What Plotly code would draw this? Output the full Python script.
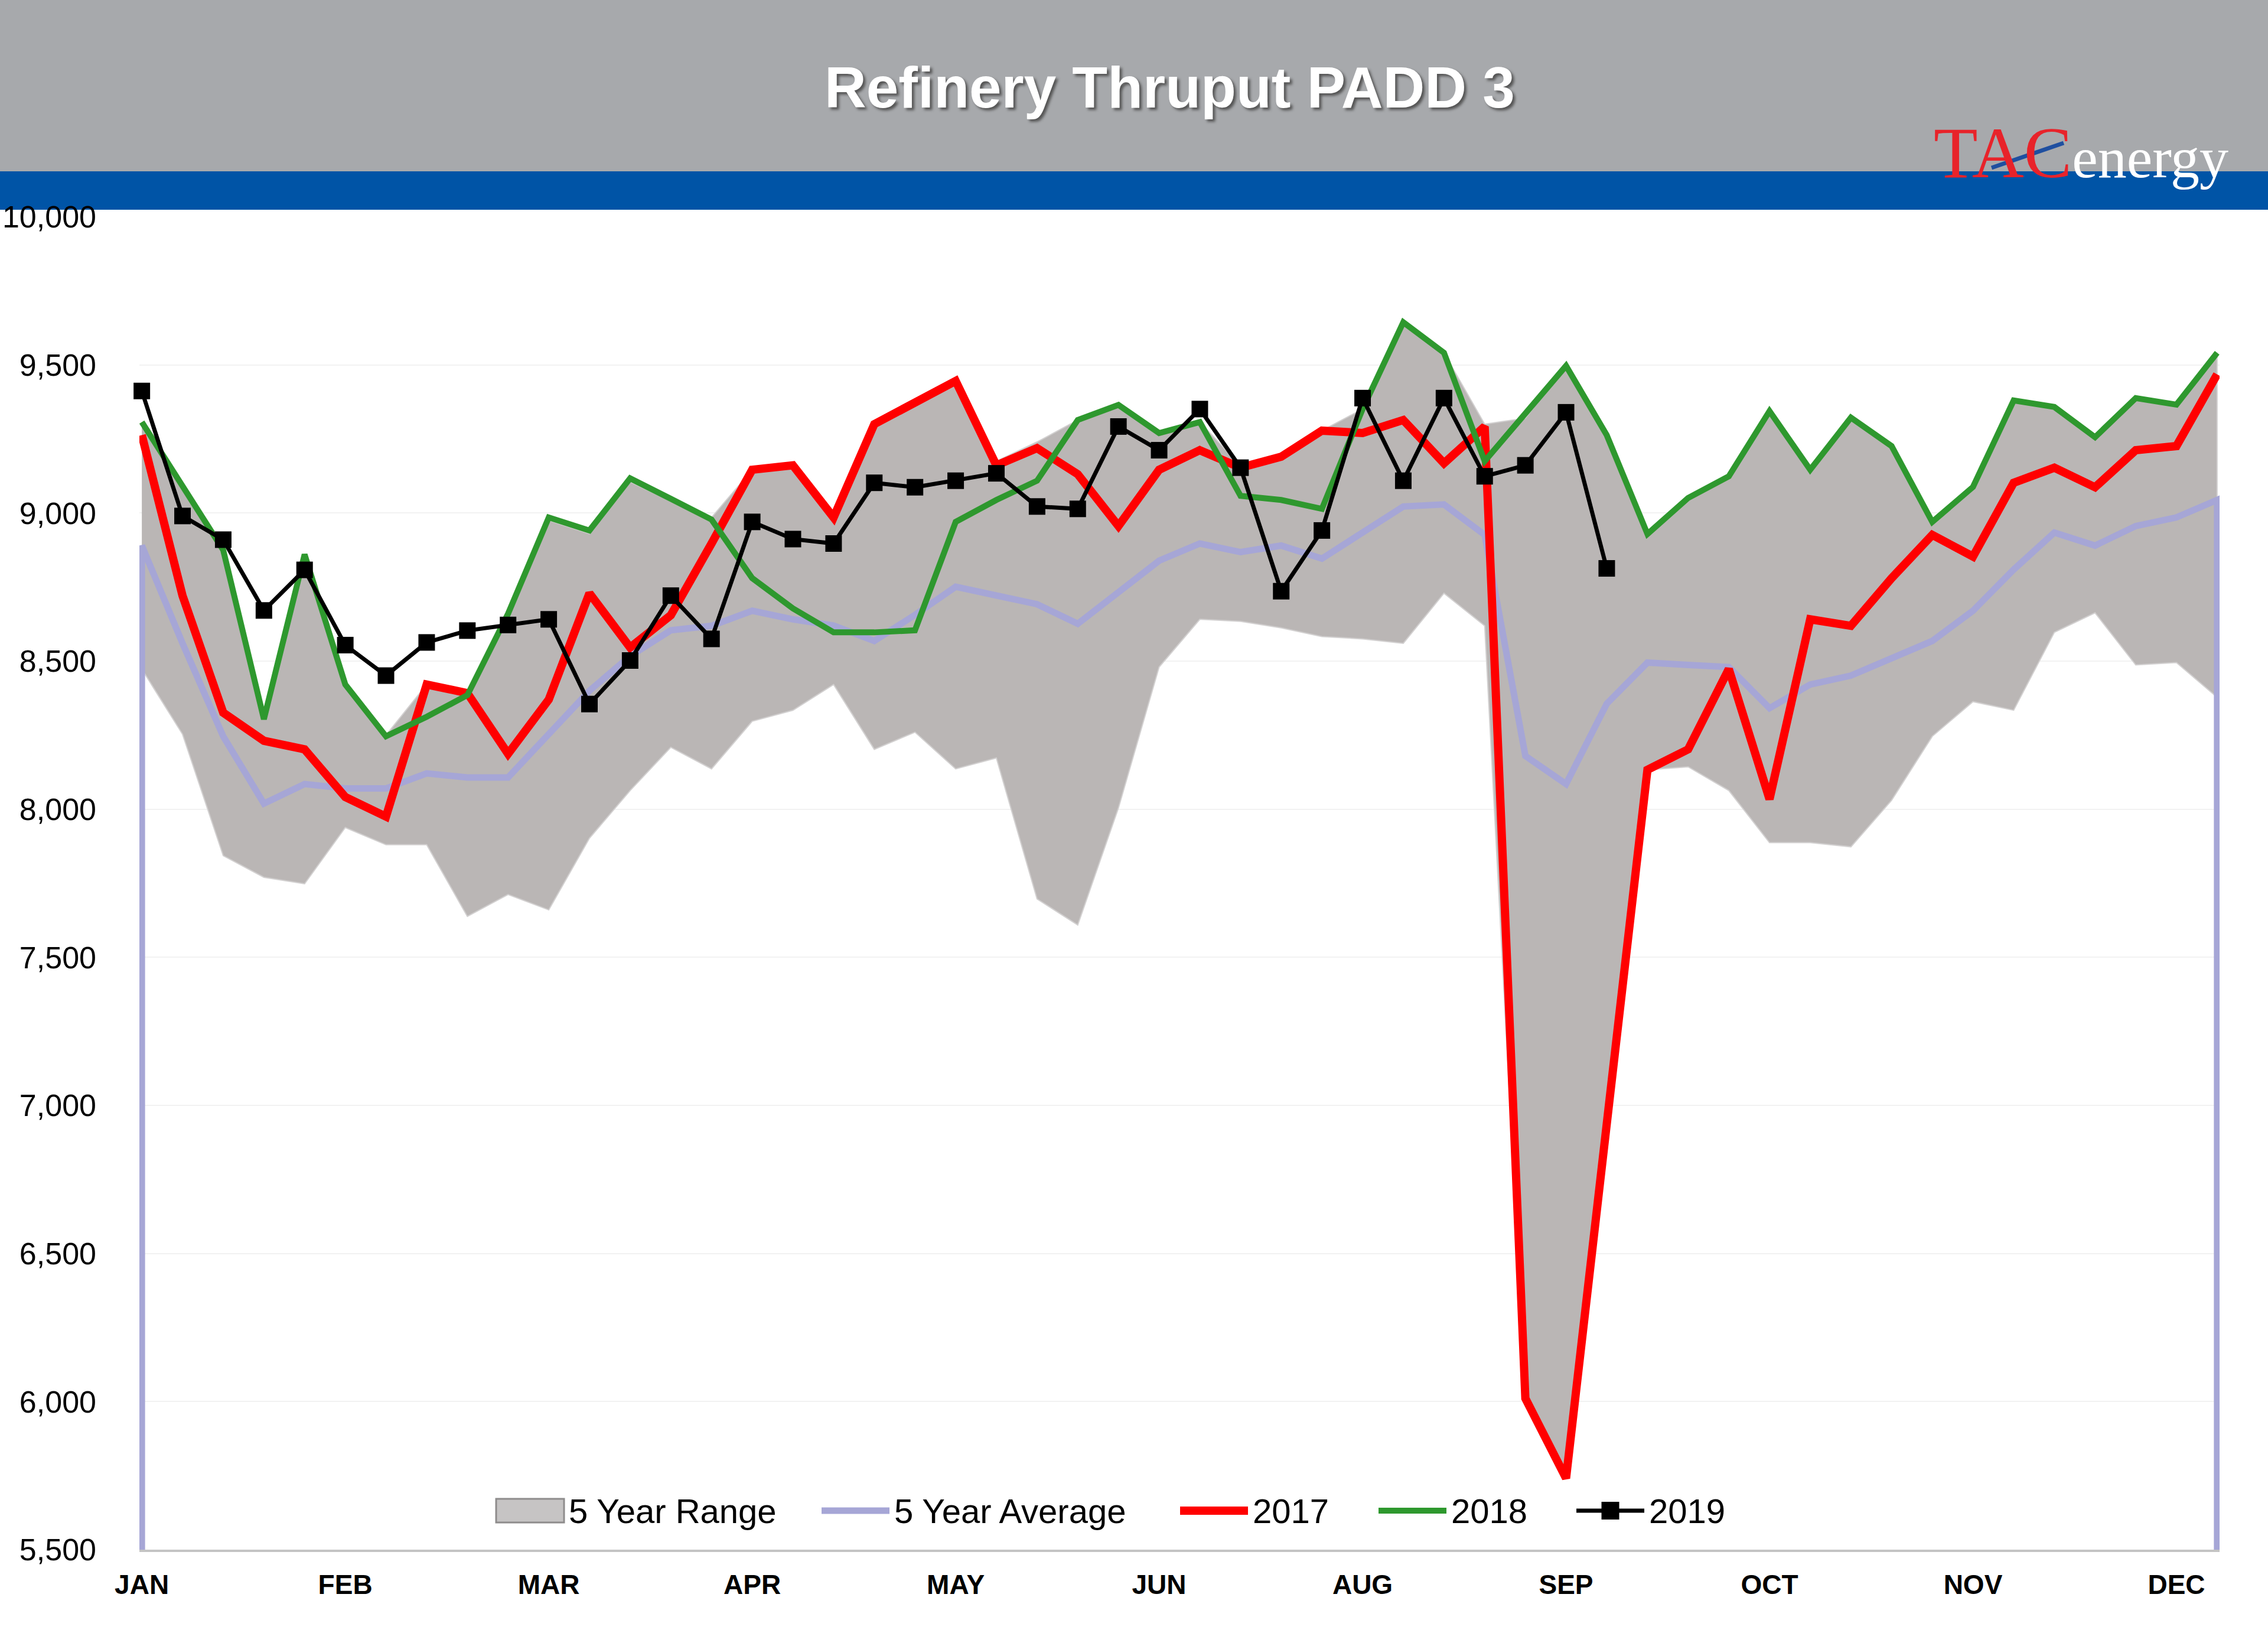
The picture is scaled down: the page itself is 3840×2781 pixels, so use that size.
"""
Refinery Thruput PADD 3 -- weekly seasonal chart (2017 / 2018 / 2019 vs 5-year band).
"""

import plotly.graph_objects as go

# --- data (thousand b/d), one value per week of the year ---
WEEKS = list(range(52))
MONTH_TICKS = [0, 5, 10, 15, 20, 25, 30, 35, 40, 45, 50]
MONTH_LABELS = ["JAN", "FEB", "MAR", "APR", "MAY", "JUN", "AUG", "SEP", "OCT", "NOV", "DEC"]

range_lo = [8473, 8253, 7843, 7770, 7748, 7938, 7880, 7880, 7638, 7712,
            7660, 7902, 8063, 8209, 8136, 8297, 8334, 8421, 8202, 8260,
            8136, 8173, 7697, 7609, 8004, 8480, 8641, 8634, 8612, 8583,
            8575, 8560, 8729, 8619, 6011, 5741, 6937, 8133, 8143, 8063,
            7887, 7887, 7873, 8030, 8246, 8363, 8334, 8597, 8663, 8487,
            8495, 8378]

range_hi = [9307, 9090, 8890, 8304, 8860, 8421, 8250, 8421, 8400, 8660,
            8975, 8930, 9105, 9040, 8985, 9146, 9161, 8985, 9300, 9373,
            9446, 9175, 9240, 9314, 9365, 9270, 9307, 9160, 9190, 9278,
            9351, 9644, 9541, 9300, 9320, 9497, 9263, 8929, 9045, 9118,
            9344, 9146, 9322, 9226, 8970, 9088, 9380, 9358, 9256, 9388,
            9366, 9541]

avg_5yr = [8890, 8560, 8246, 8019, 8085, 8070, 8070, 8121, 8107, 8107,
           8253, 8400, 8517, 8604, 8619, 8670, 8641, 8620, 8568, 8656,
           8751, 8721, 8692, 8626, 8736, 8839, 8897, 8868, 8890, 8846,
           8934, 9022, 9029, 8926, 8180, 8085, 8356, 8495, 8487, 8480,
           8341, 8421, 8451, 8509, 8568, 8670, 8809, 8934, 8890, 8956,
           8985, 9044]

y2017 = [9263, 8721, 8326, 8231, 8202, 8041, 7975, 8421, 8392, 8187,
         8370, 8729, 8546, 8655, 8897, 9146, 9161, 8985, 9300, 9373,
         9446, 9161, 9219, 9131, 8956, 9146, 9212, 9153, 9190, 9278,
         9270, 9314, 9168, 9292, 6011, 5741, 6937, 8133, 8202, 8473,
         8034, 8641, 8619, 8780, 8926, 8853, 9102, 9153, 9087, 9212,
         9226, 9468]

y2018 = [9307, 9090, 8875, 8304, 8860, 8421, 8246, 8312, 8385, 8660,
         8985, 8941, 9117, 9048, 8978, 8780, 8678, 8597, 8597, 8604,
         8970, 9044, 9109, 9314, 9365, 9270, 9307, 9058, 9044, 9014,
         9351, 9644, 9541, 9175, 9335, 9497, 9263, 8929, 9051, 9124,
         9344, 9146, 9322, 9226, 8970, 9088, 9380, 9358, 9256, 9388,
         9366, 9541]

y2019 = [9412, 8990, 8910, 8671, 8808, 8554, 8451, 8563, 8603, 8622,
         8641, 8355, 8502, 8721, 8575, 8970, 8912, 8897, 9102, 9087,
         9109, 9134, 9022, 9014, 9292, 9212, 9351, 9153, 8736, 8941,
         9388, 9109, 9388, 9124, 9161, 9340, 8813]

Y_MIN, Y_MAX = 5500, 10000

# --- page geometry (px) ---
W, H = 3840, 2781
PLOT_L, PLOT_R, PLOT_T, PLOT_B = 236, 3758, 367, 2623
PW, PH = PLOT_R - PLOT_L, PLOT_B - PLOT_T


def px_x(px):
    return (px - PLOT_L) / PW


def px_y(py):
    return (PLOT_B - py) / PH


FONT = "Liberation Sans, Arial, sans-serif"
GRAY_FILL = "#BAB6B5"
LAVENDER = "#A6A6D6"
RED = "#FF0000"
GREEN = "#2E982E"

fig = go.Figure()

# 5-year range band as one closed polygon (upper edge out, lower edge back)
fig.add_trace(go.Scatter(x=WEEKS + WEEKS[::-1], y=range_hi + range_lo[::-1],
                         mode="lines", name="5 Year Range",
                         fill="toself", fillcolor=GRAY_FILL,
                         line=dict(width=2, color="#D2D0D0")))

# 5-year average -- Excel drops it to the axis floor at both ends
fig.add_trace(go.Scatter(x=[WEEKS[0]] + WEEKS + [WEEKS[-1]],
                         y=[Y_MIN] + avg_5yr + [Y_MIN],
                         mode="lines", name="5 Year Average",
                         line=dict(width=11, color=LAVENDER)))

fig.add_trace(go.Scatter(x=WEEKS, y=y2017, mode="lines", name="2017",
                         line=dict(width=14, color=RED)))
fig.add_trace(go.Scatter(x=WEEKS, y=y2018, mode="lines", name="2018",
                         line=dict(width=10, color=GREEN)))
fig.add_trace(go.Scatter(x=WEEKS[:len(y2019)], y=y2019, mode="lines+markers", name="2019",
                         line=dict(width=7, color="#000000"),
                         marker=dict(symbol="square", size=28, color="#000000"),
                         cliponaxis=False))

shapes = [
    # grey header and blue band
    dict(type="rect", xref="paper", yref="paper", layer="below",
         x0=px_x(-60), x1=px_x(W + 60), y0=px_y(290), y1=px_y(-20),
         fillcolor="#A7A9AC", line=dict(width=0)),
    dict(type="rect", xref="paper", yref="paper", layer="below",
         x0=px_x(-60), x1=px_x(W + 60), y0=px_y(355), y1=px_y(290),
         fillcolor="#0054A6", line=dict(width=0)),
    # logo swoosh
    dict(type="line", xref="paper", yref="paper",
         x0=px_x(3372), y0=px_y(284), x1=px_x(3494), y1=px_y(242),
         line=dict(color="#1F4FA0", width=7)),
]

annotations = [
    dict(text="<b>Refinery Thruput PADD 3</b>", xref="paper", yref="paper",
         x=px_x(1980), y=px_y(148), xanchor="center", yanchor="middle",
         showarrow=False,
         font=dict(family=FONT, size=98, color="white", shadow="4px 4px 4px #555555")),
    dict(text="<span style='color:#E8232A;font-size:122px'>TAC</span>energy",
         xref="paper", yref="paper",
         x=px_x(3272), y=px_y(258), xanchor="left", yanchor="middle",
         showarrow=False,
         font=dict(family="Liberation Serif, Times New Roman, serif", size=98, color="white")),
]

# --- hand-built legend row (Excel style: long symbols, text right after) ---
LEG_Y = 2557
LEG_FONT = dict(family=FONT, size=58, color="black")
legend_items = [
    # (symbol x0, symbol x1, label)
    (840, 955, "5 Year Range"),
    (1391, 1506, "5 Year Average"),
    (1998, 2113, "2017"),
    (2334, 2449, "2018"),
    (2669, 2784, "2019"),
]
symbol_styles = ["box", LAVENDER, RED, GREEN, "#000000"]
symbol_widths = [0, 11, 14, 10, 7]

for (sx0, sx1, label), style, lw in zip(legend_items, symbol_styles, symbol_widths):
    if style == "box":
        shapes.append(dict(type="rect", xref="paper", yref="paper",
                           x0=px_x(sx0), x1=px_x(sx1),
                           y0=px_y(LEG_Y + 20), y1=px_y(LEG_Y - 20),
                           fillcolor="#C6C4C4", line=dict(color="#8E8C8C", width=3)))
    else:
        shapes.append(dict(type="line", xref="paper", yref="paper",
                           x0=px_x(sx0), x1=px_x(sx1),
                           y0=px_y(LEG_Y), y1=px_y(LEG_Y),
                           line=dict(color=style, width=lw)))
    annotations.append(dict(text=label, xref="paper", yref="paper",
                            x=px_x(sx1 + 6), y=px_y(LEG_Y), xanchor="left", yanchor="middle",
                            showarrow=False, font=LEG_FONT))

# square marker on the 2019 legend line
mid = (legend_items[4][0] + legend_items[4][1]) / 2
shapes.append(dict(type="rect", xref="paper", yref="paper",
                   x0=px_x(mid - 15), x1=px_x(mid + 15),
                   y0=px_y(LEG_Y + 15), y1=px_y(LEG_Y - 15),
                   fillcolor="#000000", line=dict(width=0)))

fig.update_layout(
    width=W, height=H,
    margin=dict(l=PLOT_L, r=W - PLOT_R, t=PLOT_T, b=H - PLOT_B, pad=0),
    paper_bgcolor="white", plot_bgcolor="white",
    font=dict(family=FONT, color="black"),
    shapes=shapes, annotations=annotations,
    showlegend=False,
    hovermode=False,
)

fig.update_xaxes(range=[-0.06, 51.06], tickmode="array",
                 tickvals=MONTH_TICKS, ticktext=MONTH_LABELS,
                 tickfont=dict(family=FONT, size=46, color="black", weight="bold"),
                 ticks="", ticklabelstandoff=16, automargin=False,
                 showgrid=False, zeroline=False,
                 showline=True, linecolor="#C4C4C4", linewidth=4)

fig.update_yaxes(range=[Y_MIN, Y_MAX], dtick=500, tickformat=",",
                 tickfont=dict(family=FONT, size=52, color="black"),
                 ticks="", ticklabelstandoff=72, automargin=False,
                 showgrid=True, gridcolor="#F2F2F2", gridwidth=2,
                 zeroline=False, showline=False)

# the page's default body margin would shift the whole figure by 8px
fig.write_html("out.html", config={"displayModeBar": False},
               post_script="document.body.style.margin='0';")
